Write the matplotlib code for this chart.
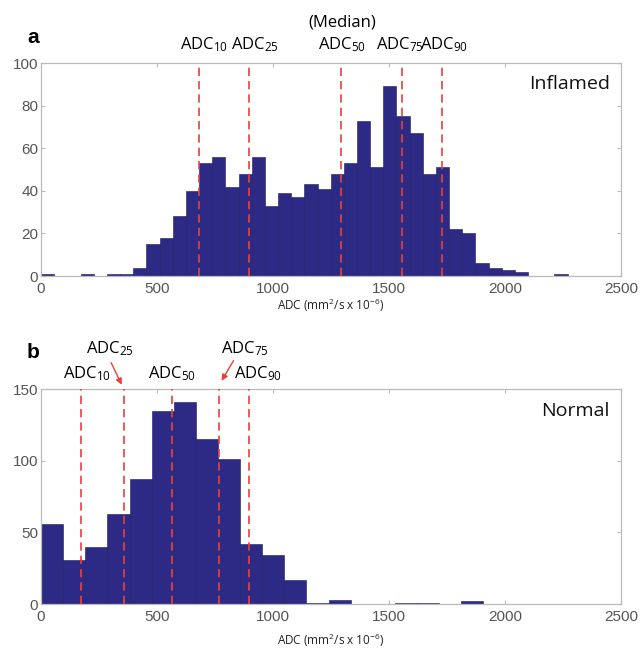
import numpy as np
import matplotlib
matplotlib.use("Agg")
import matplotlib.pyplot as plt

# panel a: inflamed, 40 bins from 0 to 2270
a_counts = [1, 0, 0, 1, 0, 1, 1, 4, 15, 18, 28, 40, 53, 56, 42, 48, 56, 33, 39, 37,
            43, 41, 48, 53, 73, 51, 89, 75, 67, 48, 51, 22, 20, 6, 4, 3, 2, 0, 0, 1]
a_range = (0, 2270)
a_pct = [682, 896, 1292, 1555, 1728]

# panel b: normal, 20 bins from 0 to 1907
b_counts = [56, 31, 40, 63, 87, 135, 141, 115, 101, 42, 34, 17, 1, 3, 0, 0, 1, 1, 0, 2]
b_range = (0, 1907)
b_pct = [171, 358, 563, 766, 895]

pct_names = ["10", "25", "50", "75", "90"]

plt.rcParams['mathtext.fontset'] = 'custom'
plt.rcParams['mathtext.rm'] = 'Open Sans'
plt.rcParams['mathtext.it'] = 'Open Sans'
LABEL_FONT = ['Open Sans', 'DejaVu Sans']
TICK_FONT = ['Liberation Sans', 'DejaVu Sans']
BAR = '#2d2a86'
RED = '#e8413c'
GRID = '#bbbbbb'


def draw_hist(ax, counts, rng, pct, ymax, yticks, tag, title, tag_y, xpad):
    edges = np.linspace(rng[0], rng[1], len(counts) + 1)
    ax.bar(edges[:-1], counts, width=np.diff(edges), align='edge',
           color=BAR, edgecolor='#1c1a5c', linewidth=0.4, zorder=2)
    for v in pct:
        ax.axvline(v, color=RED, linestyle=(0, (5, 3)), linewidth=1.2, zorder=3)
    ax.set_xlim(0, 2500)
    ax.set_ylim(0, ymax)
    ax.set_xticks([0, 500, 1000, 1500, 2000, 2500])
    ax.set_yticks(yticks)
    for s in ax.spines.values():
        s.set_color(GRID)
        s.set_linewidth(0.9)
    ax.tick_params(direction='in', length=3, color=GRID, top=True, right=True,
                   labelsize=11, labelcolor='#555555')
    ax.tick_params(axis='x', pad=4)
    ax.tick_params(axis='y', pad=2)
    for lab in ax.get_xticklabels() + ax.get_yticklabels():
        lab.set_family(TICK_FONT)
    ax.set_xlabel("ADC (mm$^2$/s x 10$^{-6}$)", fontsize=8.5, family=LABEL_FONT,
                  color='#222222', labelpad=xpad)
    ax.text(0.981, 0.90, title, transform=ax.transAxes, ha='right', va='center',
            fontsize=14, family=LABEL_FONT, color='#111111')
    ax.text(-0.014, tag_y, tag, transform=ax.transAxes,
            ha='center', va='center', fontsize=15, fontweight='bold',
            family=TICK_FONT)


fig = plt.figure(figsize=(6.42, 6.53), dpi=100)
ax_a = fig.add_axes([0.0639, 0.5773, 0.9034, 0.3262])
ax_b = fig.add_axes([0.0639, 0.075, 0.9034, 0.329])

draw_hist(ax_a, a_counts, a_range, a_pct, 100, [0, 20, 40, 60, 80, 100], 'a',
          'Inflamed', 1.12, 1)
draw_hist(ax_b, b_counts, b_range, b_pct, 150, [0, 50, 100, 150], 'b',
          'Normal', 1.17, 6)

# percentile labels, panel a
ta = ax_a.get_xaxis_transform()
a_label_x = [703, 922, 1297, 1547, 1737]
for x, n in zip(a_label_x, pct_names):
    ax_a.text(x, 1.085, "ADC$_{%s}$" % n, transform=ta, ha='center', va='center',
              fontsize=12, family=LABEL_FONT)
ax_a.text(1297, 1.19, "(Median)", transform=ta, ha='center', va='center',
          fontsize=12, family=LABEL_FONT)

# percentile labels, panel b
tb = ax_b.get_xaxis_transform()
b_label_x = [198, 297, 565, 879, 935]
b_label_y = [1.074, 1.19, 1.074, 1.19, 1.074]
for x, y, n in zip(b_label_x, b_label_y, pct_names):
    ax_b.text(x, y, "ADC$_{%s}$" % n, transform=tb, ha='center', va='center',
              fontsize=12, family=LABEL_FONT)
arrow = dict(arrowstyle='-|>', color=RED, lw=1.0, mutation_scale=9)
ax_b.annotate("", xy=(353, 1.009), xytext=(297, 1.135), xycoords=tb,
              textcoords=tb, arrowprops=arrow)
ax_b.annotate("", xy=(772, 1.028), xytext=(836, 1.144), xycoords=tb,
              textcoords=tb, arrowprops=arrow)

fig.savefig("out.png", dpi=100)
